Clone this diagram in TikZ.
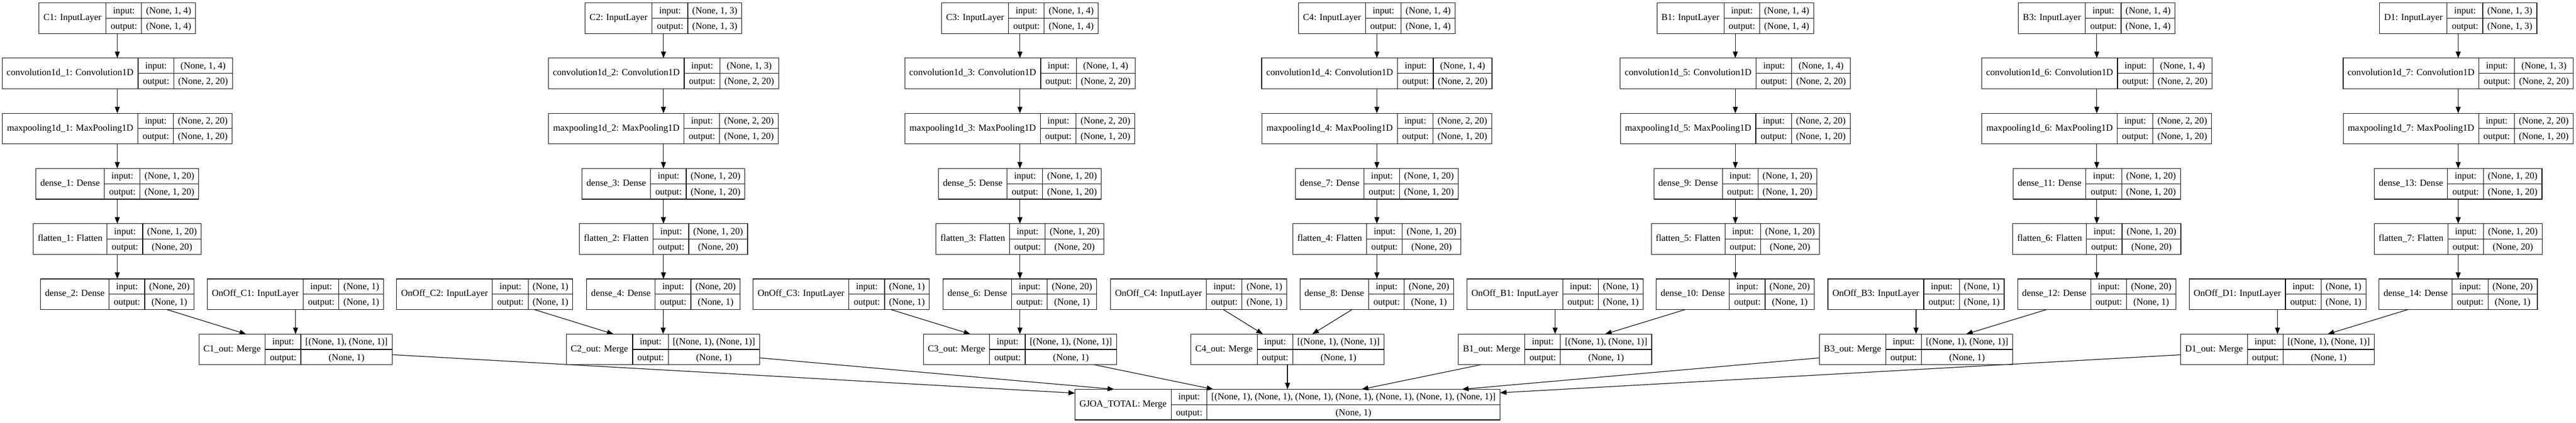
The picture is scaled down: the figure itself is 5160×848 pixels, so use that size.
\documentclass[tikz,border=0pt]{standalone}
\usepackage{fontspec}
\setmainfont{Liberation Serif}
\usetikzlibrary{arrows.meta}
\setlength{\arrayrulewidth}{1.2pt}
\setlength{\tabcolsep}{9pt}
\renewcommand{\arraystretch}{1.37}
% one keras layer record: label | input/output shapes
\newcommand{\kerasrec}[3]{\begin{tabular}{c|@{}c@{}}#1 & \begin{tabular}{c|c}input: & #2\\\hline output: & #3\end{tabular}\end{tabular}}

\begin{document}
\begin{tikzpicture}[x=1pt,y=-1pt,
    layer/.style={draw, line width=1.2pt, fill=white, inner sep=0pt, outer sep=0pt, font=\fontsize{18.67}{22}\selectfont},
    link/.style={-{Triangle[length=13pt,width=10pt]}, line width=1.2pt}]
\fill[white] (0,0) rectangle (5160,848);

\node[layer] (total) at (2579,811.4) {\kerasrec{GJOA\_TOTAL: Merge}{[(None, 1), (None, 1), (None, 1), (None, 1), (None, 1), (None, 1), (None, 1)]}{(None, 1)}};

% one column per input branch
\foreach \nm/\sh/\cx/\ox/\mx [count=\k] in {C1/4/235/592/592, C2/3/1329/971/1328, C3/4/2043/1685/2043, C4/4/2758/2401/2579, B1/4/3476/3115/3115, B3/4/4200/3838/3838, D1/3/4924/4562/4562}{
    \pgfmathtruncatemacro{\da}{2*\k-1}
    \pgfmathtruncatemacro{\db}{2*\k}
    \node[layer] (in\k) at (\cx,36.5) {\kerasrec{\nm: InputLayer}{(None, 1, \sh)}{(None, 1, \sh)}};
    \node[layer] (conv\k) at (\cx,147.2) {\kerasrec{convolution1d\_\k: Convolution1D}{(None, 1, \sh)}{(None, 2, 20)}};
    \node[layer] (pool\k) at (\cx,257.9) {\kerasrec{maxpooling1d\_\k: MaxPooling1D}{(None, 2, 20)}{(None, 1, 20)}};
    \node[layer] (densea\k) at (\cx,368.6) {\kerasrec{dense\_\da: Dense}{(None, 1, 20)}{(None, 1, 20)}};
    \node[layer] (flat\k) at (\cx,479.3) {\kerasrec{flatten\_\k: Flatten}{(None, 1, 20)}{(None, 20)}};
    \node[layer] (denseb\k) at (\cx,590) {\kerasrec{dense\_\db: Dense}{(None, 20)}{(None, 1)}};
    \node[layer] (onoff\k) at (\ox,590) {\kerasrec{OnOff\_\nm: InputLayer}{(None, 1)}{(None, 1)}};
    \node[layer] (out\k) at (\mx,700.7) {\kerasrec{\nm\_out: Merge}{[(None, 1), (None, 1)]}{(None, 1)}};
    \draw[link] (in\k) -- (conv\k);
    \draw[link] (conv\k) -- (pool\k);
    \draw[link] (pool\k) -- (densea\k);
    \draw[link] (densea\k) -- (flat\k);
    \draw[link] (flat\k) -- (denseb\k);
    \draw[link] (denseb\k) -- (out\k);
    \draw[link] (onoff\k) -- (out\k);
    \draw[link] (out\k) -- (total);
}
\useasboundingbox (0,0) rectangle (5160,848);
\end{tikzpicture}
\end{document}
